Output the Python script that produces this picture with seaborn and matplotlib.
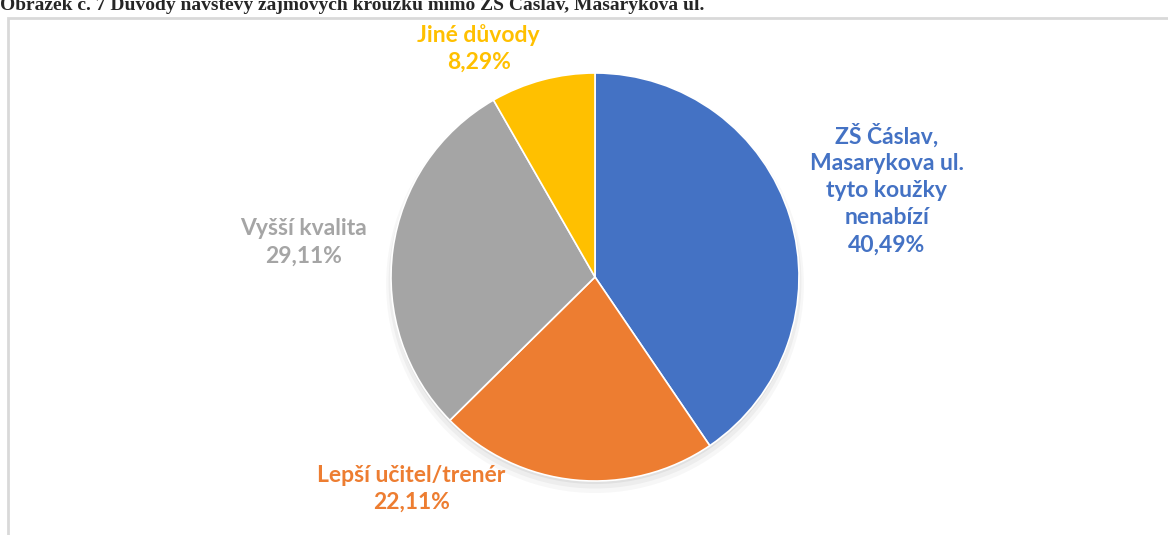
import matplotlib.pyplot as plt
import seaborn as sns
from matplotlib.patches import Rectangle

# data
categories = [
    "ZŠ Čáslav,\nMasarykova ul.\ntyto koužky\nnenabízí",
    "Lepší učitel/trenér",
    "Vyšší kvalita",
    "Jiné důvody",
]
shares = [40.49, 22.11, 29.11, 8.29]
share_labels = ["40,49%", "22,11%", "29,11%", "8,29%"]
colors = ["#4472C4", "#ED7D31", "#A5A5A5", "#FFC000"]
title = "Obrázek č. 7 Důvody návštěvy zájmových kroužku mimo ZŠ Čáslav, Masarykova ul."

# label anchor points (pie units, radius = 1)
label_pos = [(1.43, 0.43), (-0.90, -1.04), (-1.43, 0.17), (-0.57, 1.12)]

sns.set_theme(style="white")
plt.rcParams["font.family"] = ["Lato", "DejaVu Sans"]

fig = plt.figure(figsize=(11.68, 5.35), dpi=100)
ax = fig.add_axes([0, 0, 1, 1])

# pie centre at (595, 277) px, radius 204 px
scale = 204

# soft shadow
for i, a in enumerate([0.05, 0.04, 0.03]):
    ax.add_patch(plt.Circle((0.0, -0.015 - 0.01 * i), 1.0 + 0.012 * i,
                            color="black", alpha=a, lw=0, zorder=0))

ax.pie(
    shares,
    colors=colors,
    startangle=90,
    counterclock=False,
    radius=1,
    center=(0, 0),
    frame=True,
    wedgeprops={"linewidth": 1.2, "edgecolor": "white"},
)
ax.set_xlim(-595 / scale, (1168 - 595) / scale)
ax.set_ylim(-(535 - 277) / scale, 277 / scale)
ax.set_aspect("auto")
ax.set_axis_off()

for cat, pct, col, (x, y) in zip(categories, share_labels, colors, label_pos):
    ax.text(x, y, cat + "\n" + pct, color=col, fontsize=16.5, fontweight="bold",
            ha="center", va="center", linespacing=1.35)

# chart border
fig.patches.append(Rectangle((8 / 1168, -0.1), 1.2, 1.1 - 18 / 535,
                             transform=fig.transFigure, fill=False,
                             edgecolor="#d9d9d9", linewidth=2))

fig.text(0.0, 1 - 10 / 535, title, fontsize=14, fontweight="bold",
         family=["Liberation Serif", "DejaVu Serif"], va="baseline", ha="left")

fig.savefig("out.png", dpi=100)
